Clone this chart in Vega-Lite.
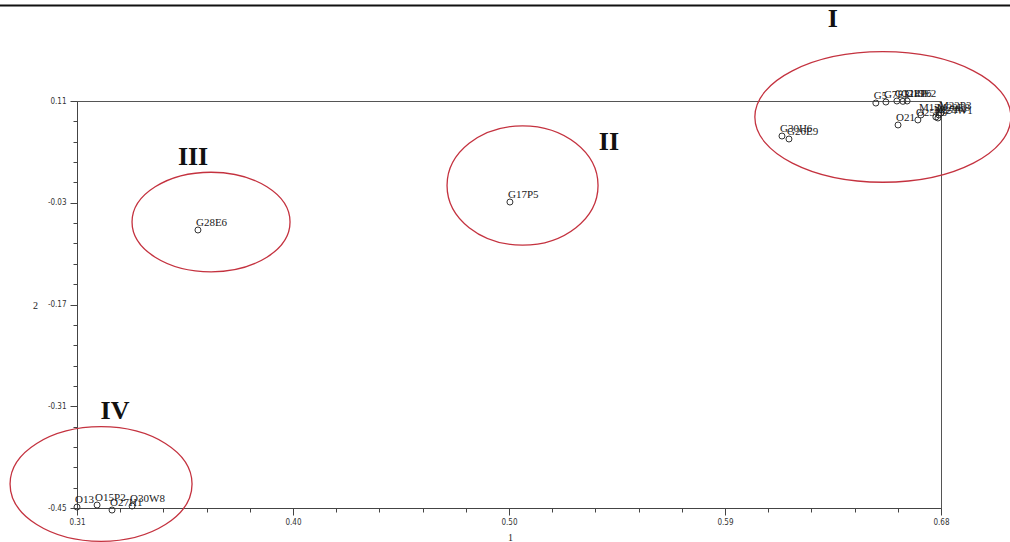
{
  "$schema": "https://vega.github.io/schema/vega-lite/v6.json",
  "width": 864,
  "height": 407,
  "autosize": {"type": "none"},
  "padding": {"left": 77, "top": 101, "right": 69, "bottom": 34},
  "background": "white",
  "config": {"view": {"stroke": "#555", "strokeWidth": 1}},
  "datasets": {
    "points": [
      {"label": "G5", "x": 0.6521, "y": 0.1072},
      {"label": "G7E3", "x": 0.6564, "y": 0.1086},
      {"label": "G12E1", "x": 0.6611, "y": 0.1100},
      {"label": "G14P6", "x": 0.6637, "y": 0.1095},
      {"label": "G19E2", "x": 0.6655, "y": 0.1100},
      {"label": "O21", "x": 0.6616, "y": 0.0770},
      {"label": "O25E5", "x": 0.6701, "y": 0.0839},
      {"label": "M13", "x": 0.6714, "y": 0.0908},
      {"label": "M17P4", "x": 0.6778, "y": 0.0880},
      {"label": "M24W1", "x": 0.6787, "y": 0.0866},
      {"label": "M20E8", "x": 0.6791, "y": 0.0908},
      {"label": "M22P3", "x": 0.6800, "y": 0.0935},
      {"label": "G30H6", "x": 0.6119, "y": 0.0618},
      {"label": "G26E9", "x": 0.6149, "y": 0.0577},
      {"label": "G17P5", "x": 0.4954, "y": -0.029},
      {"label": "G28E6", "x": 0.3618, "y": -0.0675},
      {"label": "O13", "x": 0.3100, "y": -0.4487},
      {"label": "O15P2", "x": 0.3186, "y": -0.4459},
      {"label": "O27H1", "x": 0.3250, "y": -0.4528},
      {"label": "O30W8", "x": 0.3336, "y": -0.4473}
    ],
    "ellipses": [
      {"name": "I", "x": 0.6551, "y": 0.0880},
      {"name": "II", "x": 0.5008, "y": -0.0063},
      {"name": "III", "x": 0.3674, "y": -0.0565},
      {"name": "IV", "x": 0.3203, "y": -0.4170}
    ],
    "numerals": [
      {"name": "I", "x": 0.6337, "y": 0.2228},
      {"name": "II", "x": 0.5378, "y": 0.0536},
      {"name": "III", "x": 0.3597, "y": 0.0329},
      {"name": "IV", "x": 0.3263, "y": -0.3166}
    ],
    "topline": [
      {"x": 0.2770, "x2": 0.7100, "y": 0.2414}
    ]
  },
  "encoding": {
    "x": {
      "field": "x",
      "type": "quantitative",
      "scale": {"domain": [0.31, 0.68], "nice": false, "zero": false},
      "axis": {
        "title": "1",
        "values": [0.31, 0.3285, 0.347, 0.3655, 0.384, 0.4025, 0.421, 0.4395, 0.458, 0.4765, 0.495, 0.5135, 0.532, 0.5505, 0.569, 0.5875, 0.606, 0.6245, 0.643, 0.6615, 0.68],
        "labelExpr": "datum.value == 0.31 ? '0.31' : datum.value == 0.4025 ? '0.40' : datum.value == 0.495 ? '0.50' : datum.value == 0.5875 ? '0.59' : datum.value == 0.68 ? '0.68' : ''",
        "tickSize": {"condition": {"test": "indexof([0.31, 0.4025, 0.495, 0.5875, 0.68], datum.value) >= 0", "value": 7}, "value": 4},
        "grid": false,
        "labelOverlap": false,
        "labelFlush": false,
        "domainColor": "#444",
        "tickColor": "#444",
        "labelColor": "#333",
        "labelFont": "Liberation Sans Narrow, DejaVu Sans Condensed, Liberation Sans",
        "labelFontSize": 8,
        "labelPadding": 3,
        "titleFont": "Liberation Serif",
        "titleFontSize": 10,
        "titleFontWeight": "normal",
        "titleColor": "#222222",
        "titleX": 433,
        "titleY": 29,
        "titleBaseline": "middle"
      }
    },
    "y": {
      "field": "y",
      "type": "quantitative",
      "scale": {"domain": [-0.45, 0.11], "nice": false, "zero": false},
      "axis": {
        "title": "2",
        "values": [-0.45, -0.422, -0.394, -0.366, -0.338, -0.31, -0.282, -0.254, -0.226, -0.198, -0.17, -0.142, -0.114, -0.086, -0.058, -0.03, -0.002, 0.026, 0.054, 0.082, 0.11],
        "labelExpr": "datum.value == -0.45 ? '-0.45' : datum.value == -0.31 ? '-0.31' : datum.value == -0.17 ? '-0.17' : datum.value == -0.03 ? '-0.03' : datum.value == 0.11 ? '0.11' : ''",
        "tickSize": {"condition": {"test": "indexof([-0.45, -0.31, -0.17, -0.03, 0.11], datum.value) >= 0", "value": 7}, "value": 4},
        "grid": false,
        "labelOverlap": false,
        "labelFlush": false,
        "domainColor": "#444",
        "tickColor": "#444",
        "labelColor": "#333",
        "labelFont": "Liberation Sans Narrow, DejaVu Sans Condensed, Liberation Sans",
        "labelFontSize": 8,
        "labelPadding": 4,
        "titleFont": "Liberation Serif",
        "titleFontSize": 10,
        "titleFontWeight": "normal",
        "titleColor": "#222222",
        "titleAngle": 0,
        "titleX": -42,
        "titleY": 204,
        "titleAlign": "center",
        "titleBaseline": "middle"
      }
    }
  },
  "layer": [
    {
      "data": {"name": "topline"},
      "mark": {"type": "rule", "color": "#111", "strokeWidth": 2},
      "encoding": {"x2": {"field": "x2"}}
    },
    {
      "data": {"name": "ellipses"},
      "transform": [{"filter": "datum.name == 'I'"}],
      "mark": {"type": "point", "filled": false, "shape": "M-1,0A1,0.51,0,1,1,1,0A1,0.51,0,1,1,-1,0Z", "size": 65536, "stroke": "#c4323f", "strokeWidth": 1.3, "opacity": 1}
    },
    {
      "data": {"name": "ellipses"},
      "transform": [{"filter": "datum.name == 'II'"}],
      "mark": {"type": "point", "filled": false, "shape": "M-1,0A1,0.79,0,1,1,1,0A1,0.79,0,1,1,-1,0Z", "size": 22801, "stroke": "#c4323f", "strokeWidth": 1.3, "opacity": 1}
    },
    {
      "data": {"name": "ellipses"},
      "transform": [{"filter": "datum.name == 'III'"}],
      "mark": {"type": "point", "filled": false, "shape": "M-1,0A1,0.63,0,1,1,1,0A1,0.63,0,1,1,-1,0Z", "size": 24964, "stroke": "#c4323f", "strokeWidth": 1.3, "opacity": 1}
    },
    {
      "data": {"name": "ellipses"},
      "transform": [{"filter": "datum.name == 'IV'"}],
      "mark": {"type": "point", "filled": false, "shape": "M-1,0A1,0.63,0,1,1,1,0A1,0.63,0,1,1,-1,0Z", "size": 33124, "stroke": "#c4323f", "strokeWidth": 1.3, "opacity": 1}
    },
    {
      "data": {"name": "numerals"},
      "mark": {"type": "text", "font": "Liberation Serif", "fontSize": 26, "fontWeight": "bold", "color": "#111", "align": "center", "baseline": "middle"},
      "encoding": {"text": {"field": "name"}}
    },
    {
      "data": {"name": "points"},
      "mark": {"type": "point", "filled": false, "shape": "circle", "size": 36, "stroke": "#333", "strokeWidth": 1, "opacity": 1}
    },
    {
      "data": {"name": "points"},
      "mark": {"type": "text", "font": "Liberation Serif", "fontSize": 11, "color": "#1a1a1a", "align": "left", "baseline": "middle", "dx": -2, "dy": -7},
      "encoding": {"text": {"field": "label"}}
    }
  ]
}
